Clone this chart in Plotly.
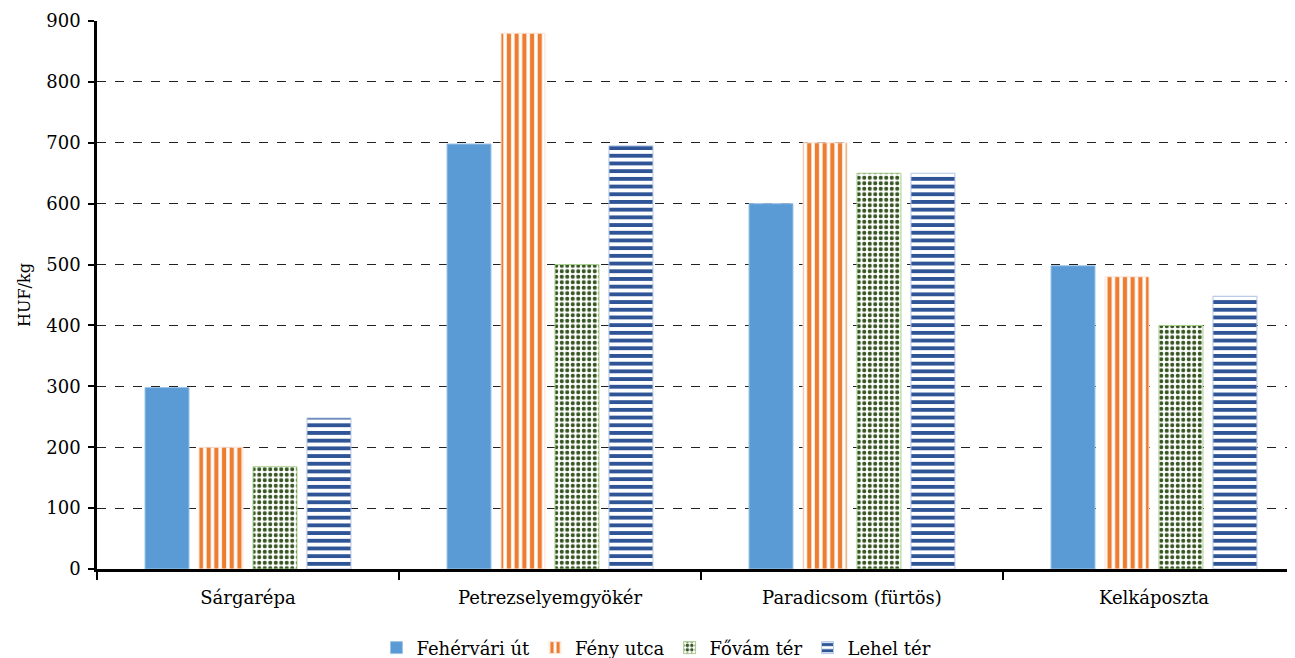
import plotly.graph_objects as go

categories = ["Sárgarépa", "Petrezselyemgyökér", "Paradicsom (fürtös)", "Kelkáposzta"]
series_names = ["Fehérvári út", "Fény utca", "Fővám tér", "Lehel tér"]
fehervari = [298, 698, 600, 498]
feny = [200, 880, 700, 480]
fovam = [168, 500, 650, 400]
lehel = [248, 695, 650, 448]
y_ticks = [0, 100, 200, 300, 400, 500, 600, 700, 800, 900]

font_family = "DejaVu Serif"

fig = go.Figure()
fig.add_trace(go.Bar(
    x=categories, y=fehervari, name=series_names[0],
    marker=dict(color="#5B9BD5", line=dict(color="#9DC3E6", width=1)),
))
fig.add_trace(go.Bar(
    x=categories, y=feny, name=series_names[1],
    marker=dict(color="#ED7D31", line=dict(color="#FBE5D6", width=1),
                pattern=dict(shape="|", fgcolor="#ED7D31", bgcolor="white",
                             fgopacity=1, fillmode="replace",
                             size=7.7, solidity=0.55)),
))
fig.add_trace(go.Bar(
    x=categories, y=fovam, name=series_names[2],
    marker=dict(color="#375623", line=dict(color="#A9D18E", width=1),
                pattern=dict(shape=".", fgcolor="#375623", bgcolor="white",
                             fgopacity=1, fillmode="replace",
                             size=5.5, solidity=0.45)),
))
fig.add_trace(go.Bar(
    x=categories, y=lehel, name=series_names[3],
    marker=dict(color="#2F5597", line=dict(color="#B4C7E7", width=1),
                pattern=dict(shape="-", fgcolor="#2F5597", bgcolor="white",
                             fgopacity=1, fillmode="replace",
                             size=7.7, solidity=0.5)),
))

fig.update_layout(
    width=1287, height=650,
    margin=dict(l=89, r=0, t=13, b=89, autoexpand=False),
    paper_bgcolor="white", plot_bgcolor="white",
    barmode="group", bargap=0.285, bargroupgap=0.185,
    font=dict(family=font_family, size=18, color="black"),
    showlegend=True,
    legend=dict(orientation="h", x=0.467, xanchor="center", y=-0.144, yanchor="middle",
                font=dict(size=18, family=font_family), itemwidth=30,
                traceorder="normal", bgcolor="rgba(0,0,0,0)"),
)
fig.update_xaxes(
    range=[-0.5, 3.467], showline=True, linecolor="black", linewidth=2.5,
    ticks="outside", tickson="boundaries", ticklen=8, tickwidth=2, tickcolor="black",
    ticklabelstandoff=11, tickfont=dict(size=18, family=font_family),
    showgrid=False, zeroline=False,
)
fig.update_yaxes(
    range=[0, 900], tickvals=y_ticks, showline=True, linecolor="black", linewidth=2.5,
    ticks="outside", ticklen=6, tickwidth=2, tickcolor="black",
    ticklabelstandoff=4,
    tickfont=dict(size=18, family=font_family),
    showgrid=True, gridcolor="#222222", griddash="dash", gridwidth=1,
    zeroline=False,
    title=dict(text="HUF/kg", font=dict(size=16, family=font_family), standoff=12),
)

fig.write_html("out.html")
